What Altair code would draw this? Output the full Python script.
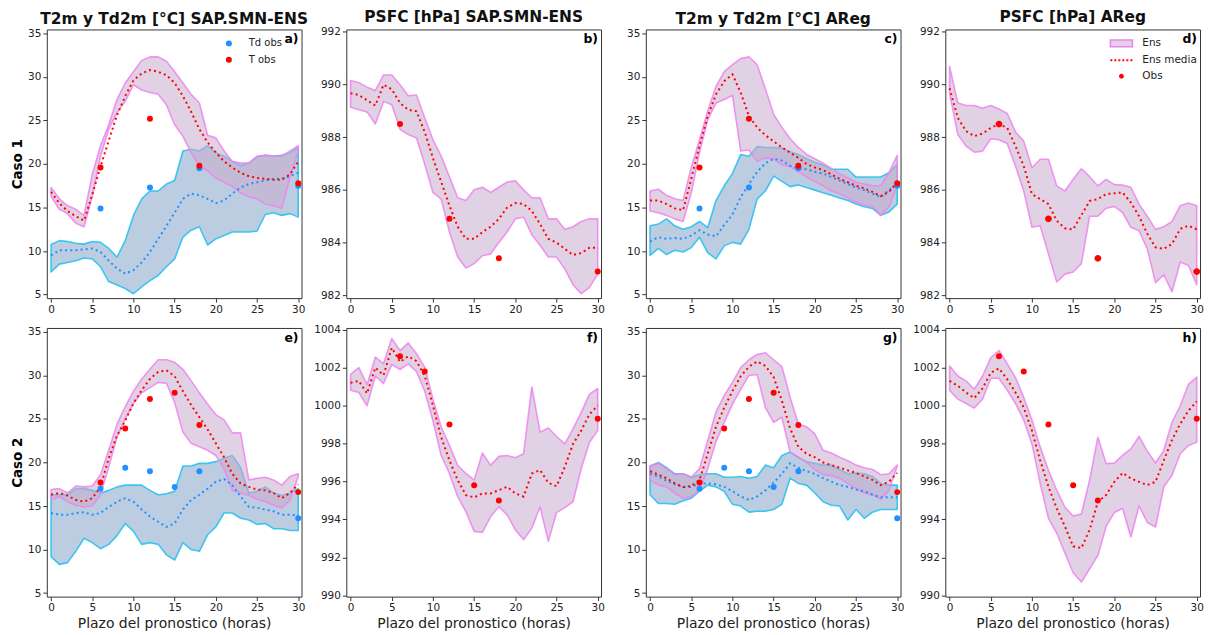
import altair as alt
import pandas as pd

HOURS = list(range(31))

# ---------------- Caso 1 ----------------
obs_h1 = [6, 12, 18, 30]
obs_t1 = [19.6, 25.2, 19.8, 17.8]
obs_td1 = [14.9, 17.3, 19.5, 17.5]
obs_p1 = [988.5, 984.9, 983.4, 982.9]

# a) SAP.SMN-ENS temperature
a_t_hi = [17.3, 16.0, 15.2, 14.8, 14.1, 18.8, 22.1, 24.5, 27.4, 29.3, 30.6, 31.9, 32.3, 32.3, 31.8, 30.6, 29.3, 28.0, 27.0, 23.3, 23.0, 21.5, 20.3, 20.1, 20.1, 20.9, 21.0, 20.9, 20.9, 21.5, 22.1]
a_t_lo = [16.3, 14.8, 14.3, 13.2, 12.8, 16.3, 20.9, 24.0, 25.9, 27.2, 29.1, 28.5, 28.2, 28.0, 26.8, 24.5, 23.2, 21.3, 19.8, 19.2, 18.4, 17.9, 17.4, 16.7, 16.2, 16.0, 15.4, 15.2, 14.9, 18.5, 21.5]
a_t_mean = [16.8, 15.5, 14.6, 14.0, 13.5, 16.5, 19.7, 22.7, 25.6, 27.8, 29.6, 30.4, 30.8, 30.6, 30.2, 29.3, 27.8, 26.0, 24.0, 22.5, 21.3, 20.3, 19.6, 19.0, 18.6, 18.4, 18.3, 18.2, 18.2, 18.8, 20.3]
a_td_hi = [10.75, 11.2, 11.1, 10.9, 10.8, 11.1, 11.0, 10.3, 9.3, 11.2, 14.1, 16.0, 16.9, 16.9, 17.7, 18.1, 21.5, 21.7, 21.5, 22.1, 21.3, 20.9, 20.3, 19.8, 20.1, 20.8, 21.0, 20.9, 21.0, 21.3, 21.9]
a_td_lo = [7.6, 8.5, 8.7, 8.9, 9.2, 9.1, 8.2, 6.5, 6.1, 5.7, 5.1, 5.9, 6.6, 7.2, 8.2, 9.1, 11.6, 12.4, 12.8, 10.7, 11.4, 11.8, 12.2, 12.2, 12.2, 12.3, 14.2, 14.4, 14.1, 14.3, 13.9]
a_td_mean = [9.5, 10.1, 10.1, 10.1, 10.2, 10.3, 9.9, 8.9, 8.0, 7.4, 7.8, 8.7, 9.9, 11.4, 12.9, 14.4, 16.0, 16.6, 16.4, 16.0, 15.5, 15.8, 16.6, 17.3, 17.7, 17.9, 18.1, 18.3, 18.3, 18.6, 19.0]

# b) SAP.SMN-ENS pressure
b_hi = [990.15, 990.07, 989.9, 989.77, 990.36, 990.36, 989.99, 989.57, 989.6, 988.73, 987.9, 987.28, 986.5, 985.7, 985.6, 986.0, 986.1, 985.9, 986.1, 986.3, 986.34, 986.0, 985.7, 985.7, 984.9, 984.9, 984.5, 984.6, 984.8, 984.9, 984.9]
b_lo = [989.14, 989.04, 988.96, 988.5, 989.36, 989.23, 988.3, 988.1, 987.97, 986.97, 985.9, 985.65, 984.4, 983.45, 983.03, 983.2, 983.5, 983.57, 984.0, 984.4, 984.9, 984.96, 984.3, 983.9, 983.45, 983.45, 983.0, 982.4, 982.06, 982.3, 982.8]
b_mean = [989.67, 989.6, 989.4, 989.2, 989.99, 989.82, 989.3, 989.04, 988.98, 988.2, 987.2, 986.3, 985.4, 984.6, 984.14, 984.14, 984.4, 984.6, 984.9, 985.33, 985.5, 985.46, 985.2, 984.7, 984.14, 984.0, 983.76, 983.53, 983.6, 983.8, 983.8]

# c) AReg temperature
c_t_hi = [16.9, 17.1, 16.4, 16.0, 15.8, 19.6, 22.8, 26.1, 28.9, 30.6, 31.4, 32.1, 32.3, 31.4, 28.6, 25.7, 24.2, 22.9, 21.9, 21.1, 20.6, 20.1, 19.5, 18.9, 18.4, 17.9, 17.7, 17.5, 17.5, 19.0, 21.0]
c_t_lo = [14.6, 14.4, 14.1, 13.7, 13.4, 16.7, 21.3, 25.1, 27.0, 27.4, 27.9, 21.5, 21.6, 20.3, 20.7, 20.6, 19.9, 19.7, 19.1, 18.5, 18.0, 17.5, 16.9, 16.6, 16.1, 15.6, 15.3, 15.1, 14.1, 15.1, 17.5]
c_t_mean = [15.8, 15.8, 15.4, 14.9, 14.7, 18.3, 22.1, 25.5, 28.0, 29.5, 30.3, 28.2, 25.5, 24.2, 23.3, 22.6, 21.9, 21.3, 20.7, 20.0, 19.6, 19.3, 18.8, 18.3, 17.9, 17.5, 17.2, 16.8, 16.3, 16.8, 17.9]
c_td_hi = [12.9, 13.1, 13.7, 12.9, 12.5, 12.8, 13.4, 12.7, 15.8, 17.5, 18.9, 21.1, 20.9, 22.0, 21.9, 21.9, 21.8, 21.4, 21.1, 20.6, 20.2, 19.9, 19.4, 19.4, 19.4, 18.5, 18.5, 18.5, 18.5, 19.0, 20.0]
c_td_lo = [9.5, 10.3, 9.6, 10.1, 9.9, 10.4, 11.6, 9.8, 9.1, 10.6, 11.0, 10.8, 12.5, 16.0, 16.9, 18.6, 18.0, 17.4, 17.6, 17.3, 17.0, 16.7, 16.4, 16.1, 15.8, 15.4, 15.1, 14.9, 14.1, 14.5, 15.4]
c_td_mean = [11.1, 11.6, 11.4, 11.5, 11.4, 11.8, 12.4, 11.9, 11.7, 13.0, 14.2, 16.2, 17.7, 19.1, 20.1, 20.6, 20.4, 19.8, 19.5, 19.4, 19.1, 18.9, 18.5, 18.1, 17.7, 17.3, 17.0, 16.6, 16.2, 17.0, 17.7]

# d) AReg pressure
d_hi = [990.68, 989.3, 989.2, 989.2, 989.1, 989.2, 989.07, 988.9, 988.2, 987.85, 986.84, 987.16, 987.16, 986.15, 985.96, 986.4, 986.8, 986.5, 986.15, 986.4, 986.2, 986.18, 986.1, 985.46, 985.0, 984.5, 984.6, 984.8, 985.4, 985.5, 985.4]
d_lo = [989.67, 988.1, 987.66, 987.43, 987.47, 987.94, 987.9, 987.76, 986.9, 985.96, 984.58, 984.64, 983.57, 982.5, 982.8, 982.88, 983.2, 985.0, 985.0, 985.3, 985.37, 985.14, 984.58, 984.45, 983.76, 982.48, 982.78, 982.13, 983.26, 983.13, 982.4]
d_mean = [989.86, 988.73, 988.23, 988.04, 988.14, 988.35, 988.5, 988.35, 987.66, 986.9, 985.84, 985.65, 985.46, 984.83, 984.54, 984.5, 985.04, 985.58, 985.65, 985.84, 985.87, 985.9, 985.52, 985.0, 984.33, 983.82, 983.76, 983.95, 984.52, 984.64, 984.5]

# ---------------- Caso 2 ----------------
obs_h2 = [6, 9, 12, 15, 18, 30]
obs_t2 = [17.7, 23.9, 27.3, 28.0, 24.3, 16.6]
obs_td2 = [17.0, 19.4, 19.0, 17.2, 19.0, 13.6]
obs_p2 = [1002.6, 1001.8, 999.0, 995.8, 995.0, 999.3]

# e) SAP.SMN-ENS temperature
e_t_hi = [16.9, 17.0, 16.5, 17.3, 17.2, 17.3, 18.6, 21.4, 24.4, 26.4, 28.2, 29.6, 30.7, 31.8, 31.8, 31.5, 30.7, 29.4, 28.0, 26.7, 25.5, 24.9, 23.4, 23.4, 18.0, 18.2, 18.3, 18.0, 17.4, 18.4, 18.7]
e_t_lo = [15.7, 16.1, 15.5, 15.1, 14.9, 15.0, 16.3, 19.5, 22.9, 25.0, 26.8, 28.0, 28.6, 29.2, 29.1, 26.9, 23.5, 22.2, 21.8, 21.4, 20.8, 19.3, 16.8, 16.5, 16.2, 15.8, 15.5, 15.1, 14.8, 15.7, 18.4]
e_t_mean = [16.3, 16.5, 16.2, 15.7, 15.5, 15.9, 17.2, 20.5, 23.1, 24.8, 26.8, 28.3, 29.6, 30.4, 30.6, 29.9, 28.2, 26.6, 25.2, 23.8, 22.2, 20.6, 18.7, 17.6, 17.2, 16.9, 16.8, 16.5, 15.9, 16.5, 17.5]
e_td_hi = [16.3, 16.3, 16.3, 17.0, 17.0, 16.8, 16.5, 16.8, 17.2, 17.4, 17.4, 17.4, 16.8, 16.3, 16.4, 16.7, 19.6, 19.6, 19.9, 19.9, 20.1, 20.5, 20.8, 19.4, 16.5, 16.7, 17.2, 16.5, 16.2, 16.5, 17.0]
e_td_lo = [9.2, 8.3, 8.5, 9.8, 11.3, 10.8, 10.1, 10.6, 11.6, 13.0, 12.1, 10.6, 10.8, 10.6, 9.4, 8.8, 10.8, 10.0, 9.8, 11.7, 12.6, 14.2, 14.2, 13.6, 13.4, 12.9, 13.0, 12.4, 12.4, 12.2, 12.2]
e_td_mean = [14.2, 14.0, 14.0, 14.2, 14.3, 14.0, 14.2, 14.9, 15.5, 15.9, 15.5, 14.6, 13.8, 13.2, 12.6, 13.0, 14.6, 15.7, 16.3, 17.0, 17.8, 18.1, 17.4, 16.1, 14.9, 14.8, 14.6, 14.4, 14.0, 14.0, 13.9]

# f) SAP.SMN-ENS pressure
f_hi = [1001.65, 1002.0, 1001.1, 1002.55, 1002.2, 1003.53, 1002.9, 1003.3, 1002.73, 1002.03, 1000.34, 998.86, 997.9, 996.85, 996.42, 996.07, 997.5, 996.85, 997.32, 997.37, 997.25, 997.46, 1000.98, 998.6, 998.82, 998.37, 997.98, 998.77, 999.64, 1000.6, 1000.9]
f_lo = [1000.81, 1000.69, 999.99, 1001.56, 1001.16, 1002.17, 1001.9, 1002.2, 1001.79, 1000.77, 999.2, 997.37, 996.42, 995.2, 994.41, 993.37, 993.31, 994.15, 994.67, 994.24, 993.45, 992.93, 993.54, 994.67, 992.84, 994.36, 994.62, 994.93, 996.68, 998.07, 998.68]
f_mean = [1001.2, 1001.3, 1000.64, 1002.0, 1001.6, 1003.04, 1002.3, 1002.6, 1002.34, 1001.56, 999.99, 998.33, 997.11, 996.07, 995.28, 995.16, 995.37, 995.37, 995.54, 995.72, 995.37, 995.2, 996.42, 996.6, 995.93, 995.75, 996.76, 997.98, 998.68, 999.55, 999.99]

# g) AReg temperature
g_t_hi = [19.6, 19.9, 19.3, 18.6, 18.7, 18.3, 19.3, 22.5, 25.8, 27.7, 29.2, 30.9, 31.8, 32.4, 32.6, 31.8, 31.0, 27.5, 24.4, 24.1, 23.3, 21.4, 21.1, 20.6, 20.2, 19.7, 19.4, 19.2, 18.6, 18.7, 19.7]
g_t_lo = [18.0, 17.4, 17.2, 16.5, 15.9, 16.1, 16.8, 19.3, 22.4, 24.6, 26.7, 28.4, 30.0, 30.1, 26.3, 24.6, 25.2, 21.2, 20.6, 20.0, 19.2, 18.6, 18.5, 18.2, 17.6, 17.0, 16.5, 16.3, 15.8, 16.8, 19.6]
g_t_mean = [19.0, 18.6, 18.2, 17.6, 17.2, 17.3, 18.0, 21.0, 24.1, 26.3, 28.2, 29.9, 31.0, 31.6, 31.1, 29.8, 27.1, 23.9, 21.8, 21.0, 20.6, 20.0, 19.7, 19.4, 19.1, 18.8, 18.4, 18.0, 17.4, 17.8, 18.8]
g_td_hi = [19.6, 20.0, 19.4, 18.7, 18.7, 18.3, 18.6, 18.7, 18.7, 18.3, 18.3, 18.4, 18.2, 18.4, 19.7, 19.4, 20.8, 21.2, 20.6, 20.1, 19.9, 19.7, 19.7, 19.2, 18.7, 18.8, 18.7, 18.4, 17.6, 17.4, 17.4]
g_td_lo = [16.3, 15.3, 15.3, 15.2, 15.6, 15.9, 16.7, 17.4, 17.2, 16.7, 15.2, 15.0, 14.3, 14.4, 14.4, 14.6, 15.2, 18.2, 17.6, 17.4, 16.5, 15.5, 15.1, 15.0, 13.4, 14.6, 13.6, 14.3, 14.6, 14.6, 14.6]
g_td_mean = [18.7, 18.4, 17.9, 17.5, 17.2, 17.2, 17.6, 17.6, 17.5, 17.2, 16.7, 16.1, 15.7, 16.1, 16.8, 17.7, 18.7, 19.9, 19.4, 19.0, 18.7, 18.2, 17.8, 17.4, 17.2, 16.9, 16.7, 16.3, 16.0, 16.0, 16.0]

# h) AReg pressure
h_hi = [1002.08, 1001.56, 1001.3, 1000.86, 1001.56, 1002.52, 1002.9, 1002.2, 1001.47, 1000.43, 999.24, 997.81, 996.59, 995.54, 994.64, 994.18, 994.29, 996.07, 998.33, 996.94, 996.97, 997.37, 997.72, 998.37, 997.6, 996.97, 997.64, 999.12, 999.99, 1001.12, 1001.5]
h_lo = [1000.81, 1000.34, 1000.11, 999.87, 1000.34, 1001.44, 1001.44, 1000.81, 1000.11, 999.24, 997.98, 995.89, 994.06, 993.28, 992.23, 991.19, 990.7, 991.4, 992.1, 993.63, 994.36, 994.59, 993.07, 994.71, 993.84, 993.6, 995.72, 996.33, 997.46, 997.9, 998.07]
h_mean = [1001.3, 1001.04, 1000.69, 1000.39, 1000.91, 1001.73, 1001.96, 1001.38, 1000.69, 999.9, 998.68, 997.11, 995.72, 994.59, 993.63, 992.58, 992.49, 993.45, 994.93, 995.28, 995.98, 996.45, 996.16, 995.98, 995.81, 995.98, 997.11, 998.19, 999.03, 999.73, 1000.22]

# ---------------- styling ----------------
W, H = 256, 270
X_DOMAIN = [-0.52, 30.4]
T_DOMAIN = [4.6, 35.45]
P1_DOMAIN = [981.89, 992.09]
P2_DOMAIN = [989.93, 1004.09]
X_TICKS = [0, 5, 10, 15, 20, 25, 30]
T_TICKS = [5, 10, 15, 20, 25, 30, 35]
P1_TICKS = [982, 984, 986, 988, 990, 992]
P2_TICKS = [990, 992, 994, 996, 998, 1000, 1002, 1004]

RED = "#ff0000"
BLUE = "#1e90ff"
T_FILL, T_FILL_OP, T_EDGE = "#c8acce", 0.55, "#ee82ee"
TD_FILL, TD_FILL_OP, TD_EDGE = "#26589b", 0.30, "#1fbff0"
XTITLE = "Plazo del pronostico (horas)"

# legend symbol paths (unit = half of sqrt(symbolSize))
PATCH = "M-1.85,-0.55H1.85V0.55H-1.85Z"
DOTS = " ".join(f"M{x:.2f},-0.17h0.33v0.34h-0.33Z" for x in [-1.85, -1.18, -0.51, 0.16, 0.83, 1.5])
DOT = "M0.4,0A0.4,0.4,0,1,1,-0.4,0A0.4,0.4,0,1,1,0.4,0Z"


def x_enc(field, xtitle):
    return alt.X(field, type="quantitative",
                 scale=alt.Scale(domain=X_DOMAIN, nice=False, zero=False),
                 axis=alt.Axis(values=X_TICKS, title=xtitle, titleFontSize=14, titlePadding=4,
                               format="d"))


def y_enc(field, domain, ticks, ytitle):
    return alt.Y(field, type="quantitative",
                 scale=alt.Scale(domain=domain, nice=False, zero=False),
                 axis=alt.Axis(values=ticks, title=ytitle, titleFontWeight="bold", format="d",
                               titleFontSize=13.5, titlePadding=3, titleColor="#000"))


def band(df, hi, lo, fill, fop, edge, domain, ticks, ytitle, xtitle):
    return alt.Chart(df).mark_area(fill=fill, fillOpacity=fop, stroke=edge, strokeWidth=1.6,
                                   strokeOpacity=0.85, strokeJoin="round").encode(
        x=x_enc("h", xtitle), y=y_enc(hi, domain, ticks, ytitle), y2=alt.Y2(lo))


def mean_line(df, field, color, domain, ticks, ytitle, xtitle):
    return alt.Chart(df).mark_line(color=color, strokeWidth=2, strokeDash=[2, 3.2]).encode(
        x=x_enc("h", xtitle), y=y_enc(field, domain, ticks, ytitle))


def tag(label):
    return alt.Chart(pd.DataFrame({"lab": [label]})).mark_text(
        align="right", baseline="top", fontSize=12.5, fontWeight="bold", color="#000").encode(
        x=alt.value(W - 3), y=alt.value(4), text="lab:N")


def panel_title(text):
    return alt.Title(text, frame="group", anchor="middle")


def temp_panel(t_hi, t_lo, t_mean, td_hi, td_lo, td_mean, oh, ot, otd, title, label,
               ytitle=None, xtitle=None, legend=False):
    df = pd.DataFrame({"h": HOURS, "t_hi": t_hi, "t_lo": t_lo, "t_mean": t_mean,
                       "td_hi": td_hi, "td_lo": td_lo, "td_mean": td_mean})
    obs = pd.DataFrame({"h": oh + oh, "val": otd + ot,
                        "var": ["Td obs"] * len(oh) + ["T obs"] * len(oh)})
    leg = None
    if legend:
        leg = alt.Legend(title=None, orient="none", legendX=178, legendY=9, direction="vertical",
                         symbolType="circle", symbolSize=36, labelFontSize=10, labelOffset=15,
                         rowPadding=6.5, labelColor="#222")
    pts = alt.Chart(obs).mark_point(filled=True, size=36, opacity=1).encode(
        x=x_enc("h", xtitle), y=y_enc("val", T_DOMAIN, T_TICKS, ytitle),
        color=alt.Color("var:N", scale=alt.Scale(domain=["Td obs", "T obs"], range=[BLUE, RED]),
                        legend=leg))
    return alt.layer(
        band(df, "td_hi", "td_lo", TD_FILL, TD_FILL_OP, TD_EDGE, T_DOMAIN, T_TICKS, ytitle, xtitle),
        band(df, "t_hi", "t_lo", T_FILL, T_FILL_OP, T_EDGE, T_DOMAIN, T_TICKS, ytitle, xtitle),
        mean_line(df, "td_mean", BLUE, T_DOMAIN, T_TICKS, ytitle, xtitle),
        mean_line(df, "t_mean", RED, T_DOMAIN, T_TICKS, ytitle, xtitle),
        pts, tag(label)
    ).properties(width=W, height=H, title=panel_title(title))


def pres_panel(p_hi, p_lo, p_mean, oh, op, domain, ticks, title, label, xtitle=None, legend=False):
    df = pd.DataFrame({"h": HOURS, "p_hi": p_hi, "p_lo": p_lo, "p_mean": p_mean})
    obs = pd.DataFrame({"h": oh, "val": op, "leg": ["Obs"] * len(oh)})
    if legend:
        lg = alt.Legend(title=None, orient="none", legendX=170, legendY=7, direction="vertical",
                        symbolSize=144, symbolStrokeWidth=1.5, labelFontSize=10.5, labelOffset=14,
                        rowPadding=3, labelColor="#222")
        dom = ["Ens", "Ens media", "Obs"]
        pts = alt.Chart(obs).mark_point(filled=True, size=289, opacity=1).encode(
            x=x_enc("h", xtitle), y=y_enc("val", domain, ticks, None),
            fill=alt.Fill("leg:N", scale=alt.Scale(domain=dom, range=["#e1d1e4", RED, RED]), legend=lg),
            stroke=alt.Stroke("leg:N", scale=alt.Scale(domain=dom, range=[T_EDGE, "transparent", "transparent"]), legend=lg),
            shape=alt.Shape("leg:N", scale=alt.Scale(domain=dom, range=[PATCH, DOTS, DOT]), legend=lg),
        )
    else:
        pts = alt.Chart(obs).mark_point(filled=True, size=36, opacity=1, color=RED).encode(
            x=x_enc("h", xtitle), y=y_enc("val", domain, ticks, None))
    return alt.layer(
        band(df, "p_hi", "p_lo", T_FILL, T_FILL_OP, T_EDGE, domain, ticks, None, xtitle),
        mean_line(df, "p_mean", RED, domain, ticks, None, xtitle),
        pts, tag(label)
    ).properties(width=W, height=H, title=panel_title(title))


pa = temp_panel(a_t_hi, a_t_lo, a_t_mean, a_td_hi, a_td_lo, a_td_mean, obs_h1, obs_t1, obs_td1,
                "T2m y Td2m [°C] SAP.SMN-ENS", "a)", ytitle="Caso 1", legend=True)
pb = pres_panel(b_hi, b_lo, b_mean, obs_h1, obs_p1, P1_DOMAIN, P1_TICKS, "PSFC [hPa] SAP.SMN-ENS", "b)")
pc = temp_panel(c_t_hi, c_t_lo, c_t_mean, c_td_hi, c_td_lo, c_td_mean, obs_h1, obs_t1, obs_td1,
                "T2m y Td2m [°C] AReg", "c)")
pd_ = pres_panel(d_hi, d_lo, d_mean, obs_h1, obs_p1, P1_DOMAIN, P1_TICKS, "PSFC [hPa] AReg", "d)", legend=True)
pe = temp_panel(e_t_hi, e_t_lo, e_t_mean, e_td_hi, e_td_lo, e_td_mean, obs_h2, obs_t2, obs_td2,
                "", "e)", ytitle="Caso 2", xtitle=XTITLE)
pf = pres_panel(f_hi, f_lo, f_mean, obs_h2, obs_p2, P2_DOMAIN, P2_TICKS, "", "f)", xtitle=XTITLE)
pg = temp_panel(g_t_hi, g_t_lo, g_t_mean, g_td_hi, g_td_lo, g_td_mean, obs_h2, obs_t2, obs_td2,
                "", "g)", xtitle=XTITLE)
ph = pres_panel(h_hi, h_lo, h_mean, obs_h2, obs_p2, P2_DOMAIN, P2_TICKS, "", "h)", xtitle=XTITLE)

chart = alt.concat(pa, pb, pc, pd_, pe, pf, pg, ph, columns=4, spacing={"row": 30, "column": 45},
                   bounds="flush").resolve_scale(
    color="independent", fill="independent", stroke="independent", shape="independent"
).resolve_legend(
    color="independent", fill="independent", stroke="independent", shape="independent"
).properties(
    padding={"left": 2, "top": 0, "right": 0, "bottom": 0}
).configure(
    font="DejaVu Sans"
).configure_axis(
    labelFont="DejaVu Sans", labelFontSize=10.5, labelColor="#222", tickColor="#333", tickSize=4,
    domain=False, grid=False, titleFont="DejaVu Sans", titleFontWeight="normal", titleColor="#222",
    labelPadding=2
).configure_view(
    stroke="#333", strokeWidth=1
).configure_title(
    font="DejaVu Sans", fontSize=15.5, fontWeight="bold", color="#111", offset=1
).configure_legend(
    labelFont="DejaVu Sans"
)

chart.save("out.html", embed_options={"renderer": "svg", "actions": False})
